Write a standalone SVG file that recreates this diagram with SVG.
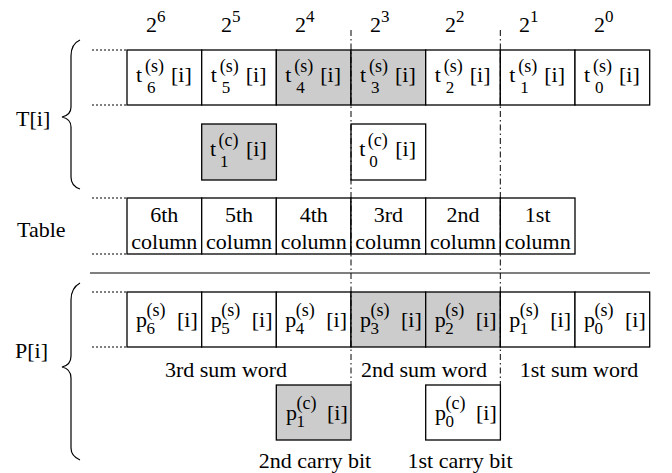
<svg xmlns="http://www.w3.org/2000/svg" width="672" height="473" viewBox="0 0 672 473" font-family="Liberation Serif, Times New Roman, serif">
<style>
text{font-family:'Liberation Serif',serif;fill:#000}
.m{font-size:22px}
.s{font-size:18px}
.e{font-size:17px}
.c{text-anchor:middle}
.box{fill:#fff;stroke:#000;stroke-width:1.3}
.g{fill:#cccccc}
.dot{stroke:#000;stroke-width:1;stroke-dasharray:2 2;fill:none}
.dd{stroke:#000;stroke-width:1;stroke-dasharray:6 3 1.5 3;fill:none}
.br{fill:none;stroke:#000;stroke-width:1.2}
</style>
<rect width="672" height="473" fill="#fff"/>
<g id="powers">
<text class="m" x="146" y="32">2<tspan class="e" dy="-10">6</tspan></text>
<text class="m" x="221" y="32">2<tspan class="e" dy="-10">5</tspan></text>
<text class="m" x="295" y="32">2<tspan class="e" dy="-10">4</tspan></text>
<text class="m" x="370" y="32">2<tspan class="e" dy="-10">3</tspan></text>
<text class="m" x="445" y="32">2<tspan class="e" dy="-10">2</tspan></text>
<text class="m" x="519" y="32">2<tspan class="e" dy="-10">1</tspan></text>
<text class="m" x="594" y="32">2<tspan class="e" dy="-10">0</tspan></text>
</g>
<g id="labels">
<text class="m" x="16" y="126">T[i]</text>
<text class="m" x="17" y="237">Table</text>
<text class="m" x="15" y="358">P[i]</text>
<path class="br" d="M80,40 Q71,44 71,56 L71,107 Q71,115 62,117 Q71,119 71,127 L71,177 Q71,186 80,189"/>
<path class="br" d="M80,283 Q71,288 71,300 L71,356 Q71,365 62,367 Q71,369 71,378 L71,448 Q71,456 80,460"/>
</g>
<g id="guides">
<line class="dot" x1="92" y1="50" x2="127" y2="50"/>
<line class="dot" x1="92" y1="105" x2="127" y2="105"/>
<line class="dot" x1="92" y1="198" x2="127" y2="198"/>
<line class="dot" x1="92" y1="254" x2="127" y2="254"/>
<line class="dot" x1="92" y1="292" x2="127" y2="292"/>
<line class="dot" x1="92" y1="347" x2="127" y2="347"/>
<line x1="90" y1="273" x2="650" y2="273" stroke="#000" stroke-width="1.2"/>
</g>
<g id="t-row">
<g id="t6"><rect class="box" x="127" y="50" width="74.7" height="55"/><text class="m" x="136" y="82">t</text><text class="s" x="145" y="72">(s)</text><text class="e" x="147" y="93">6</text><text class="m" x="171" y="82">[i]</text></g>
<g id="t5"><rect class="box" x="201.7" y="50" width="74.7" height="55"/><text class="m" x="210.7" y="82">t</text><text class="s" x="219.7" y="72">(s)</text><text class="e" x="221.7" y="93">5</text><text class="m" x="245.7" y="82">[i]</text></g>
<g id="t4"><rect class="box g" x="276.3" y="50" width="74.7" height="55"/><text class="m" x="285.3" y="82">t</text><text class="s" x="294.3" y="72">(s)</text><text class="e" x="296.3" y="93">4</text><text class="m" x="320.3" y="82">[i]</text></g>
<g id="t3"><rect class="box g" x="351" y="50" width="74.7" height="55"/><text class="m" x="360" y="82">t</text><text class="s" x="369" y="72">(s)</text><text class="e" x="371" y="93">3</text><text class="m" x="395" y="82">[i]</text></g>
<g id="t2"><rect class="box" x="425.7" y="50" width="74.7" height="55"/><text class="m" x="434.7" y="82">t</text><text class="s" x="443.7" y="72">(s)</text><text class="e" x="445.7" y="93">2</text><text class="m" x="469.7" y="82">[i]</text></g>
<g id="t1"><rect class="box" x="500.3" y="50" width="74.7" height="55"/><text class="m" x="509.3" y="82">t</text><text class="s" x="518.3" y="72">(s)</text><text class="e" x="520.3" y="93">1</text><text class="m" x="544.3" y="82">[i]</text></g>
<g id="t0"><rect class="box" x="575" y="50" width="74.7" height="55"/><text class="m" x="584" y="82">t</text><text class="s" x="593" y="72">(s)</text><text class="e" x="595" y="93">0</text><text class="m" x="619" y="82">[i]</text></g>
</g>
<g id="tc-row">
<g id="tc1"><rect class="box g" x="201.7" y="124" width="74.7" height="56"/><text class="m" x="210" y="156">t</text><text class="s" x="218.5" y="146">(c)</text><text class="e" x="220" y="167">1</text><text class="m" x="246" y="156">[i]</text></g>
<g id="tc0"><rect class="box" x="351" y="124" width="74.7" height="56"/><text class="m" x="359.3" y="156">t</text><text class="s" x="367.8" y="146">(c)</text><text class="e" x="369.3" y="167">0</text><text class="m" x="395.3" y="156">[i]</text></g>
</g>
<g id="table-row">
<g id="col6"><rect class="box" x="127" y="198" width="74.7" height="56"/><text class="m c" x="164.3" y="222">6th</text><text class="m c" x="164.3" y="249">column</text></g>
<g id="col5"><rect class="box" x="201.7" y="198" width="74.7" height="56"/><text class="m c" x="239" y="222">5th</text><text class="m c" x="239" y="249">column</text></g>
<g id="col4"><rect class="box" x="276.3" y="198" width="74.7" height="56"/><text class="m c" x="313.7" y="222">4th</text><text class="m c" x="313.7" y="249">column</text></g>
<g id="col3"><rect class="box" x="351" y="198" width="74.7" height="56"/><text class="m c" x="388.3" y="222">3rd</text><text class="m c" x="388.3" y="249">column</text></g>
<g id="col2"><rect class="box" x="425.7" y="198" width="74.7" height="56"/><text class="m c" x="463" y="222">2nd</text><text class="m c" x="463" y="249">column</text></g>
<g id="col1"><rect class="box" x="500.3" y="198" width="74.7" height="56"/><text class="m c" x="537.7" y="222">1st</text><text class="m c" x="537.7" y="249">column</text></g>
</g>
<g id="p-row">
<g id="p6"><rect class="box" x="127" y="292" width="74.7" height="55"/><text class="m" x="136" y="327">p</text><text class="s" x="146.5" y="316">(s)</text><text class="e" x="146.5" y="334">6</text><text class="m" x="177" y="327">[i]</text></g>
<g id="p5"><rect class="box" x="201.7" y="292" width="74.7" height="55"/><text class="m" x="210.7" y="327">p</text><text class="s" x="221.2" y="316">(s)</text><text class="e" x="221.2" y="334">5</text><text class="m" x="251.7" y="327">[i]</text></g>
<g id="p4"><rect class="box" x="276.3" y="292" width="74.7" height="55"/><text class="m" x="285.3" y="327">p</text><text class="s" x="295.8" y="316">(s)</text><text class="e" x="295.8" y="334">4</text><text class="m" x="326.3" y="327">[i]</text></g>
<g id="p3"><rect class="box g" x="351" y="292" width="74.7" height="55"/><text class="m" x="360" y="327">p</text><text class="s" x="370.5" y="316">(s)</text><text class="e" x="370.5" y="334">3</text><text class="m" x="401" y="327">[i]</text></g>
<g id="p2"><rect class="box g" x="425.7" y="292" width="74.7" height="55"/><text class="m" x="434.7" y="327">p</text><text class="s" x="445.2" y="316">(s)</text><text class="e" x="445.2" y="334">2</text><text class="m" x="475.7" y="327">[i]</text></g>
<g id="p1"><rect class="box" x="500.3" y="292" width="74.7" height="55"/><text class="m" x="509.3" y="327">p</text><text class="s" x="519.8" y="316">(s)</text><text class="e" x="519.8" y="334">1</text><text class="m" x="550.3" y="327">[i]</text></g>
<g id="p0"><rect class="box" x="575" y="292" width="74.7" height="55"/><text class="m" x="584" y="327">p</text><text class="s" x="594.5" y="316">(s)</text><text class="e" x="594.5" y="334">0</text><text class="m" x="625" y="327">[i]</text></g>
</g>
<g id="sum-labels">
<text class="m c" x="226" y="377">3rd sum word</text>
<text class="m c" x="424" y="377">2nd sum word</text>
<text class="m c" x="579" y="377">1st sum word</text>
</g>
<g id="pc-row">
<g id="pc1"><rect class="box g" x="276.3" y="385" width="74.7" height="55"/><text class="m" x="286" y="420">p</text><text class="s" x="296.5" y="409">(c)</text><text class="e" x="296.5" y="427">1</text><text class="m" x="327" y="420">[i]</text></g>
<g id="pc0"><rect class="box" x="425.7" y="385" width="74.7" height="55"/><text class="m" x="435" y="420">p</text><text class="s" x="445.5" y="409">(c)</text><text class="e" x="445.5" y="427">0</text><text class="m" x="476" y="420">[i]</text></g>
<text class="m c" x="315" y="468">2nd carry bit</text>
<text class="m c" x="460" y="468">1st carry bit</text>
</g>
<g id="connectors">
<line class="dd" x1="351" y1="30" x2="351" y2="385"/>
<line class="dd" x1="500.3" y1="30" x2="500.3" y2="385"/>
</g>
</svg>
